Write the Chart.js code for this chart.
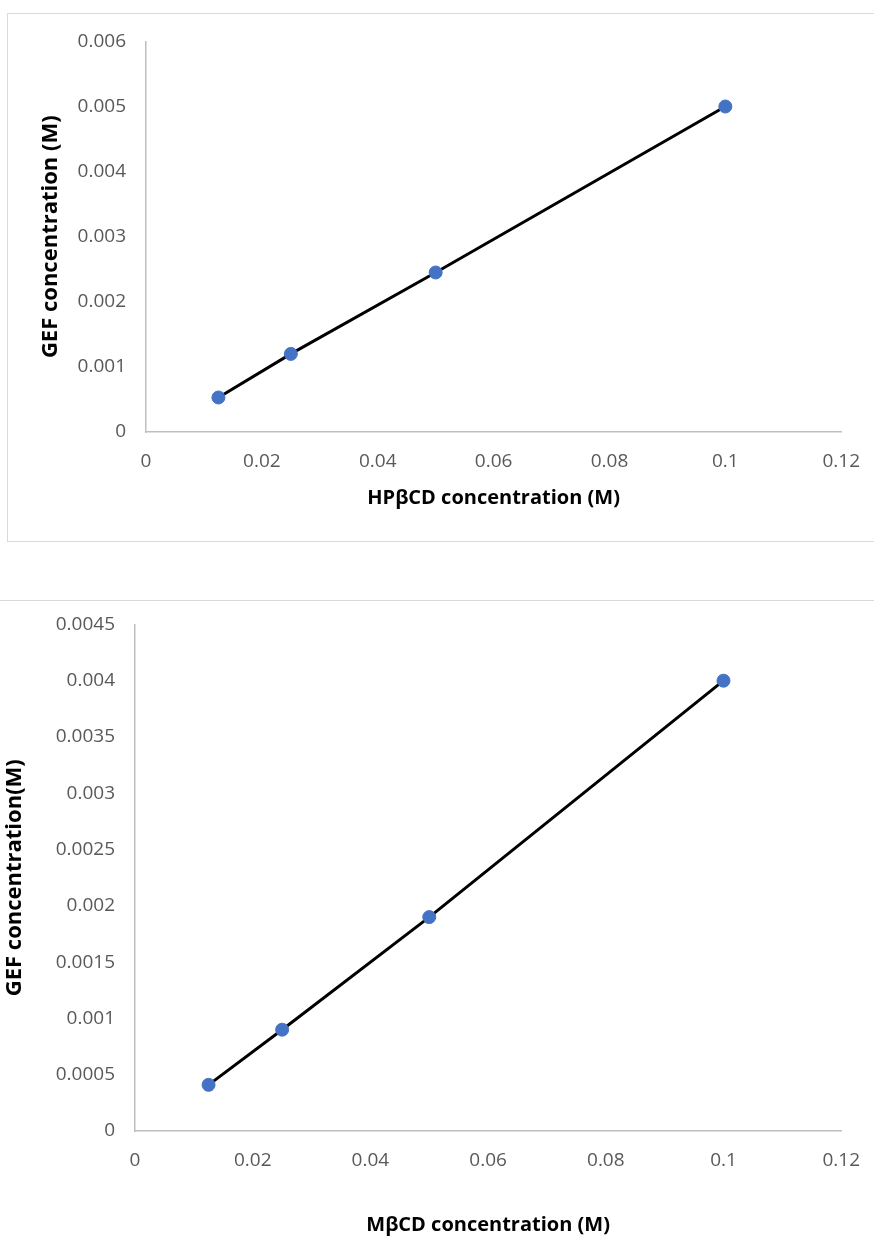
<!DOCTYPE html>
<html>
<head>
<meta charset="utf-8">
<script src="https://cdn.jsdelivr.net/npm/chart.js@4.4.1/dist/chart.umd.min.js"></script>
<style>
  body { margin: 0; background: #fff; width: 874px; height: 1260px; overflow: hidden; position: relative; }
  #box1 { position: absolute; left: 7px; top: 13px; width: 880px; height: 527px; border: 1px solid #d9d9d9; }
  #box2 { position: absolute; left: -2px; top: 600px; width: 880px; height: 700px; border-top: 1px solid #d9d9d9; }
  #chart1 { position: absolute; left: 8px; top: 10px; }
  #chart2 { position: absolute; left: 0px; top: 593px; }
</style>
</head>
<body>
<div id="box1"></div>
<div id="box2"></div>
<canvas id="chart1" width="870" height="531"></canvas>
<canvas id="chart2" width="878" height="667"></canvas>
<script>
// HPβCD series
let hpConc = [0.0125, 0.025, 0.05, 0.1];
let hpGef = [0.00053, 0.0012, 0.00245, 0.005];
// MβCD series
let mConc = [0.0125, 0.025, 0.05, 0.1];
let mGef = [0.00041, 0.0009, 0.0019, 0.004];

let xTicks = [0, 0.02, 0.04, 0.06, 0.08, 0.1, 0.12];
let yTicks1 = [0, 0.001, 0.002, 0.003, 0.004, 0.005, 0.006];
let yTicks2 = [0, 0.0005, 0.001, 0.0015, 0.002, 0.0025, 0.003, 0.0035, 0.004, 0.0045];

const tickFont = {family: 'Open Sans', size: 19};
const xTitleFont = {family: 'Open Sans', size: 20, weight: 'bold'};
const yTitleFont = {family: 'Open Sans', size: 22, weight: 'bold'};
const axisGray = '#bfbfbf';
const labelGray = '#595959';

function points(xs, ys) {
    return xs.map(function(x, i) {return {x: x, y: ys[i]}});
}

function makeChart(id, xs, ys, yTicks, opts) {
    let ctx = document.getElementById(id).getContext('2d');
    return new Chart(ctx, {
        type: 'scatter',
        data: {
            datasets: [
                {
                    // black trend line under the markers
                    data: points(xs, ys),
                    showLine: true,
                    borderColor: '#000',
                    borderWidth: 3,
                    pointRadius: 0,
                    order: 2
                },
                {
                    data: points(xs, ys),
                    backgroundColor: '#4472c4',
                    borderColor: '#4472c4',
                    pointRadius: 6.5,
                    order: 1
                }
            ]
        },
        options: {
            responsive: false,
            animation: false,
            layout: {autoPadding: false, padding: 0},
            plugins: {legend: {display: false}, tooltip: {enabled: false}},
            scales: {
                x: {
                    type: 'linear',
                    min: 0, max: 0.12,
                    afterBuildTicks: function(s) {s.ticks = xTicks.map(function(v) {return {value: v}})},
                    afterFit: function(s) {s.height = opts.xHeight},
                    grid: {display: false, drawTicks: false},
                    border: {display: true, color: axisGray, width: 1.5},
                    ticks: {font: tickFont, color: labelGray, padding: 18, maxRotation: 0,
                        callback: function(v) {return String(v)}},
                    title: {display: true, text: opts.xTitle, font: xTitleFont, color: '#000',
                        padding: {top: 0, bottom: opts.xTitlePad}}
                },
                y: {
                    type: 'linear',
                    min: 0, max: yTicks[yTicks.length - 1],
                    afterBuildTicks: function(s) {s.ticks = yTicks.map(function(v) {return {value: v}})},
                    afterFit: function(s) {s.width = opts.yWidth},
                    grid: {display: false, drawTicks: false},
                    border: {display: true, color: axisGray, width: 1.5},
                    ticks: {font: tickFont, color: labelGray, padding: 20,
                        callback: function(v) {return String(v)}},
                    title: {display: true, text: opts.yTitle, font: yTitleFont, color: '#000',
                        padding: {top: opts.yTitlePad, bottom: 0}}
                }
            }
        }
    });
}

makeChart('chart1', hpConc, hpGef, yTicks1, {
    xHeight: 109, yWidth: 138, xTitlePad: 31, yTitlePad: 30,
    xTitle: 'HPβCD concentration (M)', yTitle: 'GEF concentration (M)'
});
makeChart('chart2', mConc, mGef, yTicks2, {
    xHeight: 129, yWidth: 135, xTitlePad: 23, yTitlePad: 2,
    xTitle: 'MβCD concentration (M)', yTitle: 'GEF concentration(M)'
});
</script>
</body>
</html>
